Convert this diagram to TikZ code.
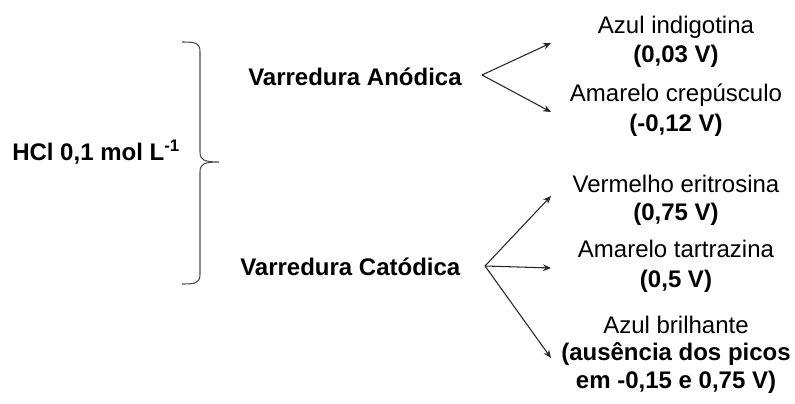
\documentclass[tikz,border=0pt]{standalone}
\usepackage{fontspec}
\setmainfont{Liberation Sans}
\usetikzlibrary{arrows.meta}
\begin{document}
\begin{tikzpicture}[x=0.75pt,y=-0.75pt,
  txt/.style={inner sep=0pt,anchor=base,font=\fontsize{18}{21}\selectfont},
  btxt/.style={txt,font=\fontsize{18}{21}\selectfont\bfseries},
  arr/.style={draw=black!85,line width=0.8pt,-{Stealth[length=6pt,width=5pt]}},
  bracestyle/.style={draw=black!70,line width=0.8pt}]
\useasboundingbox (0,0) rectangle (795,403);
% left label
\node[btxt,anchor=base west] (hcl) at (12,160) {HCl 0,1 mol L\textsuperscript{-1}};
% brace
\draw[bracestyle] (182,42) .. controls (196,42) and (200,43) .. (200,52)
  -- (200,152) .. controls (200,160) and (204,162) .. (219,162)
  .. controls (204,162) and (200,164) .. (200,172)
  -- (200,274) .. controls (200,283) and (196,284) .. (182,284);
% middle labels
\node[btxt,anchor=base west] (an) at (248,85) {Varredura Anódica};
\node[btxt,anchor=base west] (ca) at (240,275) {Varredura Catódica};
\coordinate (ano) at (482,75);
\coordinate (cao) at (485,266);
% right labels
\node[txt] (r1) at (676,34) {Azul indigotina};
\node[btxt] (r1b) at (676,63) {(0,03 V)};
\node[txt] (r2) at (676,101) {Amarelo crepúsculo};
\node[btxt] (r2b) at (676,131) {(-0,12 V)};
\node[txt] (r3) at (676,192) {Vermelho eritrosina};
\node[btxt] (r3b) at (676,220) {(0,75 V)};
\node[txt] (r4) at (676,257) {Amarelo tartrazina};
\node[btxt] (r4b) at (676,287) {(0,5 V)};
\node[txt] (r5) at (676,333) {Azul brilhante};
\node[btxt] (r5b) at (676,360) {(ausência dos picos};
\node[btxt] (r5c) at (676,388) {em -0,15 e 0,75 V)};
% arrow ends
\coordinate (e1) at (551,43);
\coordinate (e2) at (551,112);
\coordinate (e3) at (551,196);
\coordinate (e4) at (551,268);
\coordinate (e5) at (551,358);
\draw[arr] (ano) -- (e1);
\draw[arr] (ano) -- (e2);
\draw[arr] (cao) -- (e3);
\draw[arr] (cao) -- (e4);
\draw[arr] (cao) -- (e5);
\end{tikzpicture}
\end{document}
